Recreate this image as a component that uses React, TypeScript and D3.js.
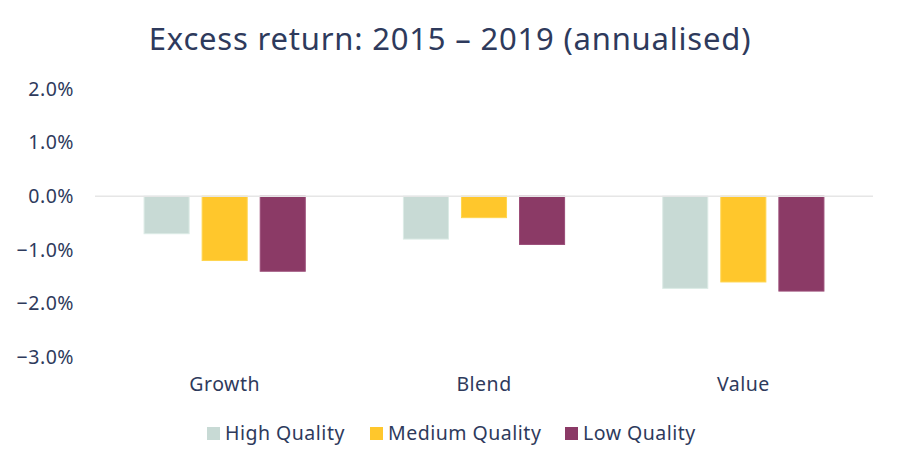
import React, { useEffect, useRef } from 'react';
import * as d3 from 'd3';

const categories = ['Growth', 'Blend', 'Value'];
const seriesNames = ['High Quality', 'Medium Quality', 'Low Quality'];
const highQuality = [-0.7, -0.8, -1.72];
const mediumQuality = [-1.2, -0.4, -1.6];
const lowQuality = [-1.4, -0.9, -1.77];
const yTicks = [2, 1, 0, -1, -2, -3];

const colors = ['#c8dad5', '#ffc72c', '#8b3a66'];
const strokes = ['#dcebe6', '#ffd54f', '#9a4c77'];
const textColor = '#2e3a5c';
const font = '"Noto Sans", sans-serif';

export default function App() {
  const svgRef = useRef<SVGSVGElement>(null);

  useEffect(() => {
    document.body.style.margin = '0';
    if (!svgRef.current) return;
    const svg = d3.select(svgRef.current);
    svg.selectAll('*').remove();

    const width = 900;
    const height = 470;
    const plot = { left: 95, right: 873, top: 89, bottom: 357 };

    const x = d3.scaleBand().domain(categories).range([plot.left, plot.right]);
    const inner = d3.scaleBand().domain(seriesNames).range([0, x.bandwidth()]).paddingInner(0.224).paddingOuter(0.845);
    const y = d3.scaleLinear().domain([-3, 2]).range([plot.bottom, plot.top]);

    svg.attr('width', width).attr('height', height).style('font-family', font);

    // title
    svg.append('text')
      .attr('x', 450).attr('y', 50)
      .attr('text-anchor', 'middle')
      .attr('font-size', 31)
      .attr('letter-spacing', 0.8)
      .attr('fill', textColor)
      .text('Excess return: 2015 – 2019 (annualised)');

    // y tick labels
    svg.append('g').selectAll('text').data(yTicks).join('text')
      .attr('x', 74).attr('y', d => y(d))
      .attr('dy', '0.35em')
      .attr('text-anchor', 'end')
      .attr('font-size', 19.5)
      .attr('letter-spacing', 0.5)
      .attr('fill', textColor)
      .text(d => d3.format('.1f')(d) + '%');

    const values = [highQuality, mediumQuality, lowQuality];

    categories.forEach((cat, ci) => {
      const g = svg.append('g').attr('transform', `translate(${x(cat)},0)`);
      g.selectAll('rect').data(seriesNames).join('rect')
        .attr('x', s => inner(s)!)
        .attr('width', inner.bandwidth())
        .attr('y', (s, si) => Math.min(y(0), y(values[si][ci])))
        .attr('height', (s, si) => Math.abs(y(values[si][ci]) - y(0)))
        .attr('fill', (s, si) => colors[si])
        .attr('stroke', (s, si) => strokes[si])
        .attr('stroke-width', 1);
    });

    // zero line
    svg.append('line')
      .attr('x1', plot.left).attr('x2', plot.right)
      .attr('y1', y(0)).attr('y2', y(0))
      .attr('stroke', '#e6e6e6').attr('stroke-width', 1.5);

    // category labels
    svg.append('g').selectAll('text').data(categories).join('text')
      .attr('x', d => x(d)! + x.bandwidth() / 2)
      .attr('y', 391)
      .attr('text-anchor', 'middle')
      .attr('font-size', 19.5)
      .attr('letter-spacing', 0.5)
      .attr('fill', textColor)
      .text(d => d);

    // legend
    const legendX = [207, 370, 565];
    const lg = svg.append('g').selectAll('g').data(seriesNames).join('g')
      .attr('transform', (d, i) => `translate(${legendX[i]},427)`);
    lg.append('rect').attr('width', 13).attr('height', 13).attr('fill', (d, i) => colors[i]);
    lg.append('text')
      .attr('x', 18).attr('y', 13)
      .attr('font-size', 19.5)
      .attr('letter-spacing', 0.5)
      .attr('fill', textColor)
      .text(d => d);
  }, []);

  return <svg ref={svgRef} style={{ display: 'block' }} />;
}
